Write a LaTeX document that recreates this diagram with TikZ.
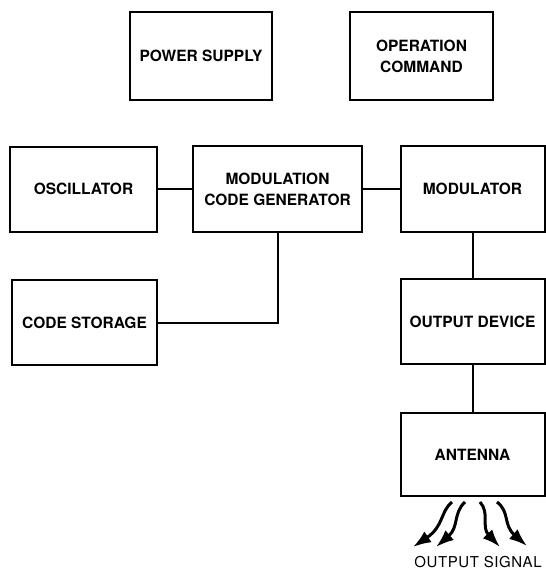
\documentclass[tikz,border=0pt]{standalone}
\usepackage{fontspec}
\setmainfont{TeX Gyre Heros}
\usetikzlibrary{arrows.meta}
\begin{document}
\begin{tikzpicture}[x=1pt,y=-1pt,
  box/.style={draw, line width=2pt, inner sep=0pt, align=center,
    font=\fontsize{15.5}{21}\selectfont\bfseries},
  wire/.style={line width=2pt},
  sig/.style={line width=3pt, -{Latex[length=18pt,width=13pt]}},
  lbl/.style={font=\fontsize{15}{18}\selectfont\addfontfeature{LetterSpace=4}}]
\useasboundingbox (0,0) rectangle (546,571);
\node[box, minimum width=142pt, minimum height=88pt] (ps) at (201,56) {POWER SUPPLY};
\node[box, minimum width=143pt, minimum height=88pt] (oc) at (421.5,56) {OPERATION\\COMMAND};
\node[box, minimum width=147pt, minimum height=85pt] (osc) at (83.5,189) {OSCILLATOR};
\node[box, minimum width=169pt, minimum height=86pt] (mcg) at (277.5,189) {MODULATION\\CODE GENERATOR};
\node[box, minimum width=144pt, minimum height=86pt] (mod) at (472.5,189) {MODULATOR};
\node[box, minimum width=145pt, minimum height=85pt] (cs) at (84.5,322.5) {CODE STORAGE};
\node[box, minimum width=144pt, minimum height=85pt] (od) at (472.5,321.5) {OUTPUT DEVICE};
\node[box, minimum width=144pt, minimum height=83pt] (ant) at (472.5,454.5) {ANTENNA};
\draw[wire] (osc.east) -- (osc.east -| mcg.west);
\draw[wire] (mcg.east) -- (mcg.east -| mod.west);
\draw[wire] (mcg.south) |- (cs.east);
\draw[wire] (mod.south) -- (od.north);
\draw[wire] (od.south) -- (ant.north);
\coordinate (s1) at (452,502); \coordinate (e1) at (413,547);
\coordinate (s2) at (465,502); \coordinate (e2) at (436,547);
\coordinate (s3) at (480,502); \coordinate (e3) at (500,547);
\coordinate (s4) at (497,502); \coordinate (e4) at (527,546);
\draw[sig] (s1) .. controls (440,512) and (444,526) .. (e1);
\draw[sig] (s2) .. controls (453,513) and (459,527) .. (e2);
\draw[sig] (s3) .. controls (490,513) and (481,527) .. (e3);
\draw[sig] (s4) .. controls (510,512) and (503,525) .. (e4);
\node[lbl] (out) at (478,562) {OUTPUT SIGNAL};
\end{tikzpicture}
\end{document}
